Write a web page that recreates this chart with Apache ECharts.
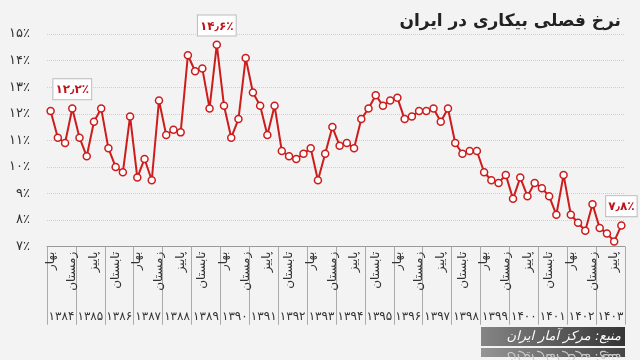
<!DOCTYPE html>
<html><head><meta charset="utf-8">
<script src="https://cdn.jsdelivr.net/npm/echarts@6/dist/echarts.min.js"></script>
<style>html,body{margin:0;padding:0;background:#f3f3f3}#c{width:640px;height:360px}</style>
</head><body><div id="c"></div>
<script>
const titleText = 'نرخ فصلی بیکاری در ایران';
const sourceText = 'منبع: مرکز آمار ایران';
const seasons = ['بهار', 'تابستان', 'پاییز', 'زمستان'];
const years = ['۱۳۸۴','۱۳۸۵','۱۳۸۶','۱۳۸۷','۱۳۸۸','۱۳۸۹','۱۳۹۰','۱۳۹۱','۱۳۹۲','۱۳۹۳','۱۳۹۴','۱۳۹۵','۱۳۹۶','۱۳۹۷','۱۳۹۸','۱۳۹۹','۱۴۰۰','۱۴۰۱','۱۴۰۲','۱۴۰۳'];
const rates = [
  12.1, 11.1, 10.9, 12.2,
  11.1, 10.4, 11.7, 12.2,
  10.7, 10.0, 9.8, 11.9,
  9.6, 10.3, 9.5, 12.5,
  11.2, 11.4, 11.3, 14.2,
  13.6, 13.7, 12.2, 14.6,
  12.3, 11.1, 11.8, 14.1,
  12.8, 12.3, 11.2, 12.3,
  10.6, 10.4, 10.3, 10.5,
  10.7, 9.5, 10.5, 11.5,
  10.8, 10.9, 10.7, 11.8,
  12.2, 12.7, 12.3, 12.5,
  12.6, 11.8, 11.9, 12.1,
  12.1, 12.2, 11.7, 12.2,
  10.9, 10.5, 10.6, 10.6,
  9.8, 9.5, 9.4, 9.7,
  8.8, 9.6, 8.9, 9.4,
  9.2, 8.9, 8.2, 9.7,
  8.2, 7.9, 7.6, 8.6,
  7.7, 7.5, 7.2, 7.8
];
const yTicks = [7, 8, 9, 10, 11, 12, 13, 14, 15];
const highlighted = [3, 23, 79];

const FONT = "'DejaVu Sans', sans-serif";
const RED = '#cc1c1c';
const faDigits = '۰۱۲۳۴۵۶۷۸۹';
function toFa(s) { return String(s).replace(/[0-9]/g, d => faDigits[+d]).replace('.', '٫'); }

const categories = [];
years.forEach(y => seasons.forEach(s => categories.push(s + ' ' + y)));

const seriesData = rates.map((v, i) => highlighted.indexOf(i) >= 0 ? {
  value: v,
  label: {
    show: true, position: 'top', distance: 5,
    formatter: () => toFa(v.toFixed(1)) + '٪',
    color: '#c0141a', fontWeight: 'bold', fontSize: 12, fontFamily: FONT,
    backgroundColor: '#ffffff', borderColor: '#bbbbbb', borderWidth: 1,
    padding: [5, 2, 3, 2]
  }
} : v);

const chart = echarts.init(document.getElementById('c'), null, {renderer: 'canvas'});
chart.setOption({
  backgroundColor: '#f3f3f3',
  animation: false,
  textStyle: {fontFamily: FONT},
  title: {
    text: titleText, right: 14, top: 8,
    textStyle: {fontSize: 17, fontWeight: 'bold', color: '#222', fontFamily: FONT}
  },
  grid: {left: 47, right: 15, top: 34, bottom: 113.3, containLabel: false},
  xAxis: [{
    type: 'category', data: categories, boundaryGap: true, position: 'bottom',
    axisLine: {show: true, lineStyle: {color: '#999', width: 1}},
    axisTick: {show: false},
    splitLine: {show: false},
    axisLabel: {
      interval: 2, rotate: 90, margin: 5, fontSize: 12, color: '#333', fontFamily: FONT,
      formatter: (val, idx) => seasons[idx % 4]
    }
  }, {
    type: 'category', data: years, boundaryGap: true, position: 'bottom',
    axisLine: {show: false},
    axisTick: {show: true, interval: 0, length: 78, lineStyle: {color: '#aaa', width: 1}},
    splitLine: {show: false},
    axisLabel: {interval: 0, margin: 64, fontSize: 12, color: '#333', fontFamily: FONT}
  }],
  yAxis: {
    type: 'value', min: yTicks[0], max: yTicks[yTicks.length - 1], interval: 1,
    axisLine: {show: false}, axisTick: {show: false},
    splitLine: {show: true, lineStyle: {color: '#cfcfcf', type: 'dotted', width: 1}},
    axisLabel: {margin: 17, fontSize: 13, color: '#333', fontFamily: FONT,
      formatter: v => toFa(v) + '٪'}
  },
  series: [{
    type: 'line', xAxisIndex: 0, data: seriesData,
    symbol: 'circle', symbolSize: 7, showAllSymbol: true,
    labelLayout: {hideOverlap: false},
    itemStyle: {color: '#ffffff', borderColor: RED, borderWidth: 1.5},
    lineStyle: {color: RED, width: 2},
    z: 3
  }],
  graphic: [{
    type: 'group', children: [{
      type: 'rect', shape: {x: 481, y: 327, width: 144, height: 19},
      style: {fill: new echarts.graphic.LinearGradient(0, 0, 1, 0, [{offset: 0, color: '#858585'}, {offset: 1, color: '#353535'}])}
    }, {
      type: 'text', x: 621, y: 337,
      style: {text: sourceText, fill: '#fff', font: 'italic 13px ' + FONT, align: 'right', verticalAlign: 'middle'}
    }]
  }, {
    type: 'group', x: 0, y: 694, scaleY: -1, opacity: 0.7, children: [{
      type: 'rect', shape: {x: 481, y: 337, width: 144, height: 9},
      style: {fill: new echarts.graphic.LinearGradient(0, 0, 1, 0, [{offset: 0, color: '#959595'}, {offset: 1, color: '#454545'}])}
    }, {
      type: 'text', x: 621, y: 337,
      style: {text: sourceText, fill: '#ccc', font: 'italic 13px ' + FONT, align: 'right', verticalAlign: 'middle'}
    }]
  }]
});
</script>
</body></html>
